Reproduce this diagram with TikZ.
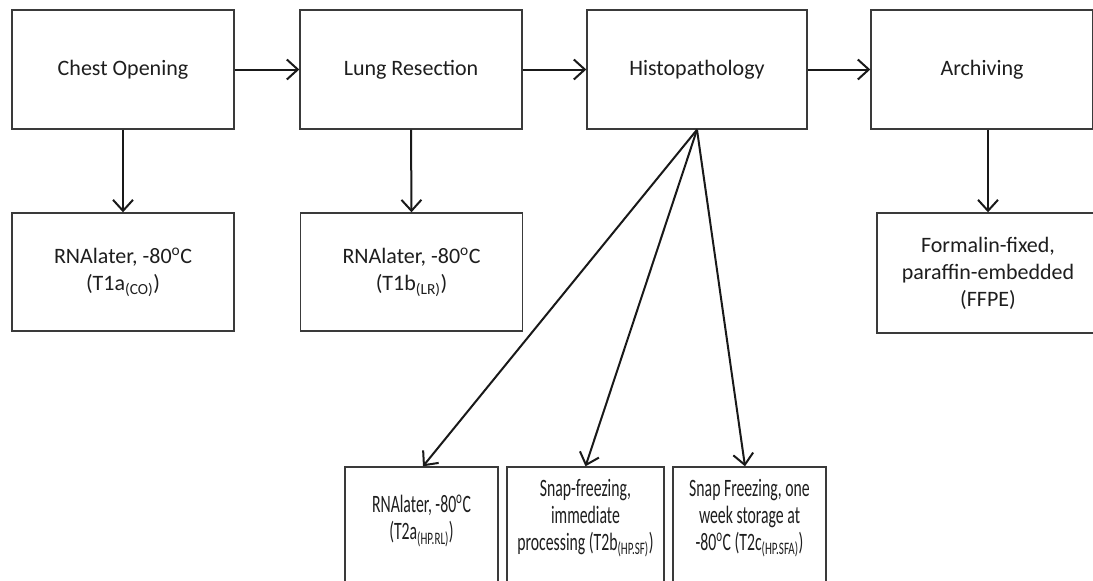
\documentclass[tikz,border=0pt]{standalone}
\usepackage{fontspec}
\setmainfont{Carlito}
\newfontfamily\narrowfont[FakeStretch=0.63]{Carlito}
\usetikzlibrary{arrows.meta}
\definecolor{boxline}{HTML}{3A3A3A}
\definecolor{txt}{HTML}{1E1E1E}
\begin{document}
\begin{tikzpicture}[x=1pt,y=-1pt,
  box/.style={draw=boxline,line width=1.4pt,fill=white,minimum width=#1,minimum height=119pt,
    inner sep=0pt,align=center,text=txt,font=\fontsize{22}{27}\selectfont},
  box/.default=222pt,
  nbox/.style={box=#1,minimum height=122pt},
  ntext/.style={inner sep=0pt,align=center,text=txt,font=\narrowfont\fontsize{25}{27}\selectfont},
  arr/.style={line width=2pt,draw=black!90,-{Straight Barb[length=11pt,width=20pt,line width=2pt]}}]
\clip (0,0) rectangle (1093,581);
\fill[white] (0,0) rectangle (1093,581);
% top row
\node[box] (co) at (123,69.5) {Chest Opening};
\node[box] (lr) at (411,69.5) {Lung Resection};
\node[box=220pt] (hp) at (697,69.5) {Histopathology};
\node[box] (ar) at (982,69.5) {Archiving};
% second row
\node[box,minimum height=118pt] (t1a) at (123,272) {RNAlater, -80\textsuperscript{o}C\\(T1a\textsubscript{(CO)})};
\node[box,minimum height=118pt] (t1b) at (411.5,272) {RNAlater, -80\textsuperscript{o}C\\(T1b\textsubscript{(LR)})};
\node[box,minimum height=120pt] (ffpe) at (988,273) {Formalin-fixed,\\paraffin-embedded\\(FFPE)};
% third row (boxes run past the bottom edge)
\node[nbox=153pt] (t2a) at (421.5,528) {};
\node[nbox=157pt] (t2b) at (585.5,528) {};
\node[nbox=153pt] (t2c) at (749.5,528) {};
\node[ntext] (t2atext) at (421.5,521) {RNAlater, -80\textsuperscript{o}C\\(T2a\textsubscript{(HP.RL)})};
\node[ntext] (t2btext) at (585.5,518) {Snap-freezing,\\immediate\\processing (T2b\textsubscript{(HP.SF)})};
\node[ntext] (t2ctext) at (749.5,518) {Snap Freezing, one\\week storage at\\-80\textsuperscript{o}C (T2c\textsubscript{(HP.SFA)})};
% connectors
\draw[arr] (co.east) -- (lr.west);
\draw[arr] (lr.east) -- (hp.west);
\draw[arr] (hp.east) -- (ar.west);
\draw[arr] (co.south) -- (t1a.north);
\draw[arr] (lr.south) -- (t1b.north);
\draw[arr] (ffpe.north |- ar.south) -- (ffpe.north);
\draw[arr] (hp.south) -- ([xshift=1.5pt]t2a.north);
\draw[arr] (hp.south) -- (t2b.north);
\draw[arr] (hp.south) -- ([xshift=-4.5pt]t2c.north);
\end{tikzpicture}
\end{document}
